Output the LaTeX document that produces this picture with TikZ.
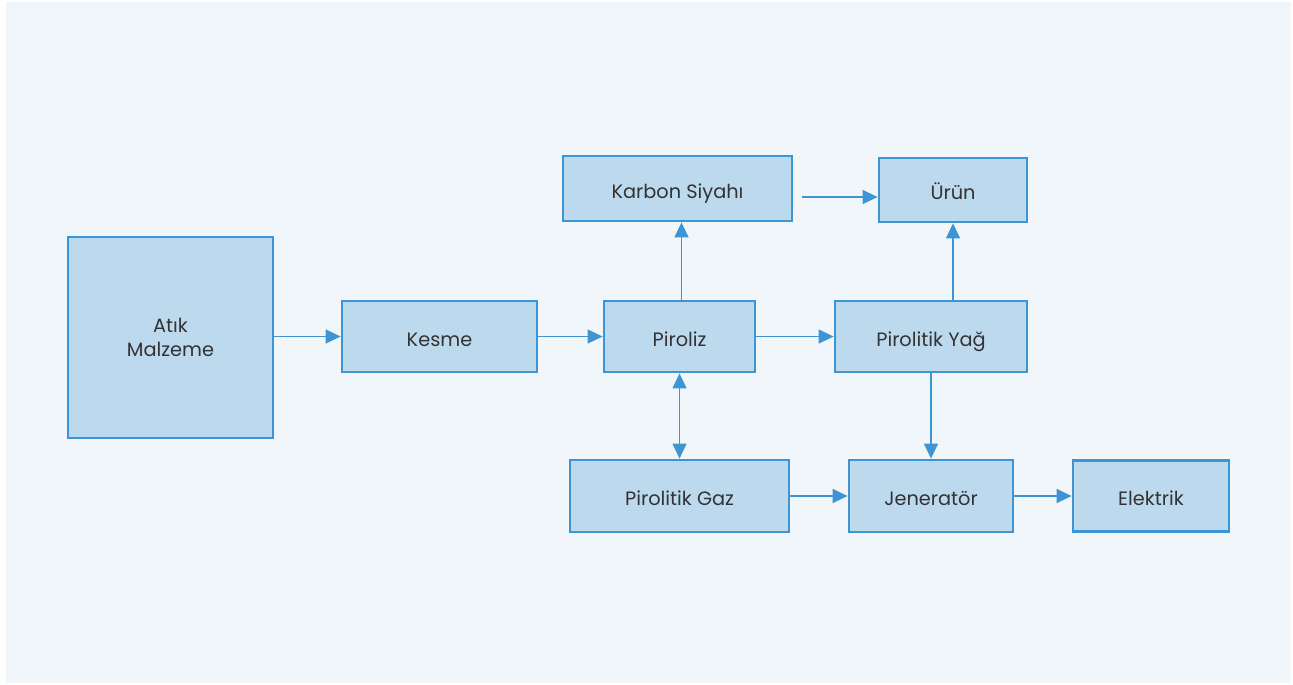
\documentclass[tikz,border=0pt]{standalone}
\usepackage{fontspec}
\setmainfont{Poppins}
\usepackage{xcolor}
\usetikzlibrary{arrows.meta,positioning,calc}

\definecolor{pagebg}{HTML}{F1F6FB}
\definecolor{boxfill}{HTML}{BDD9EE}
\definecolor{boxline}{HTML}{3D95D4}
\definecolor{textgray}{HTML}{333333}

\begin{document}
\begin{tikzpicture}[
  x=0.02cm, y=-0.02cm,
  every node/.style={font=\fontsize{11}{13.6}\selectfont, text=textgray},
  stage/.style={draw=boxline, line width=1.6pt, fill=boxfill, align=center, inner sep=0pt,
    text height=1.1em, text depth=0pt},
  arrow/.style={draw=boxline, line width=0.8pt, -{Triangle[length=3mm,width=2.8mm]}},
  twoway/.style={draw=boxline, line width=0.8pt, {Triangle[length=3mm,width=2.8mm]}-{Triangle[length=3mm,width=2.8mm]}}
]
% ---------- Page ----------
\useasboundingbox (0,0) rectangle (1293,684);
\fill[pagebg] (6,2) rectangle (1291,683);

% ---------- Main line ----------
\node[stage, text height=, text depth=, minimum width=4.1cm, minimum height=4.02cm] (atik) at (170.5,337.5) {Atık\\Malzeme};
\node[stage, minimum width=3.9cm, minimum height=1.42cm] (kesme) at (439.5,336.5) {Kesme};
\node[stage, minimum width=3.02cm, minimum height=1.42cm] (piroliz) at (679.5,336.5) {Piroliz};
\node[stage, minimum width=3.84cm, minimum height=1.42cm] (yag) at (931,336.5) {Pirolitik Yağ};

% ---------- Upper row ----------
\node[stage, minimum width=4.58cm, minimum height=1.3cm] (karbon) at (677.5,188.5) {Karbon Siyahı};
\node[stage, minimum width=2.96cm, minimum height=1.28cm] (urun) at (953,190) {Ürün};

% ---------- Lower row ----------
\node[stage, minimum width=4.38cm, minimum height=1.44cm] (gaz) at (679.5,496) {Pirolitik Gaz};
\node[stage, minimum width=3.28cm, minimum height=1.44cm] (jen) at (931,496) {Jeneratör};
\node[stage, minimum width=3.12cm, minimum height=1.42cm] (elektrik) at (1151,496) {Elektrik};

% ---------- Edges ----------
\draw[arrow] (atik.east |- kesme) -- (kesme);
\draw[arrow] (kesme) -- (piroliz);
\draw[arrow] (piroliz) -- (yag);
\draw[arrow] ([xshift=0.04cm]piroliz.north) -- ([xshift=0.04cm]piroliz.north |- karbon.south);
\draw[arrow] ([xshift=0.18cm,yshift=-0.17cm]karbon.east) -- ([yshift=-0.17cm]karbon.east -| urun.west);
\draw[arrow] (urun.south |- yag.north) -- (urun.south);
\draw[twoway] (piroliz) -- (gaz);
\draw[arrow] (yag) -- (jen);
\draw[arrow] (gaz) -- (jen);
\draw[arrow] (jen) -- (elektrik);
\end{tikzpicture}
\end{document}
